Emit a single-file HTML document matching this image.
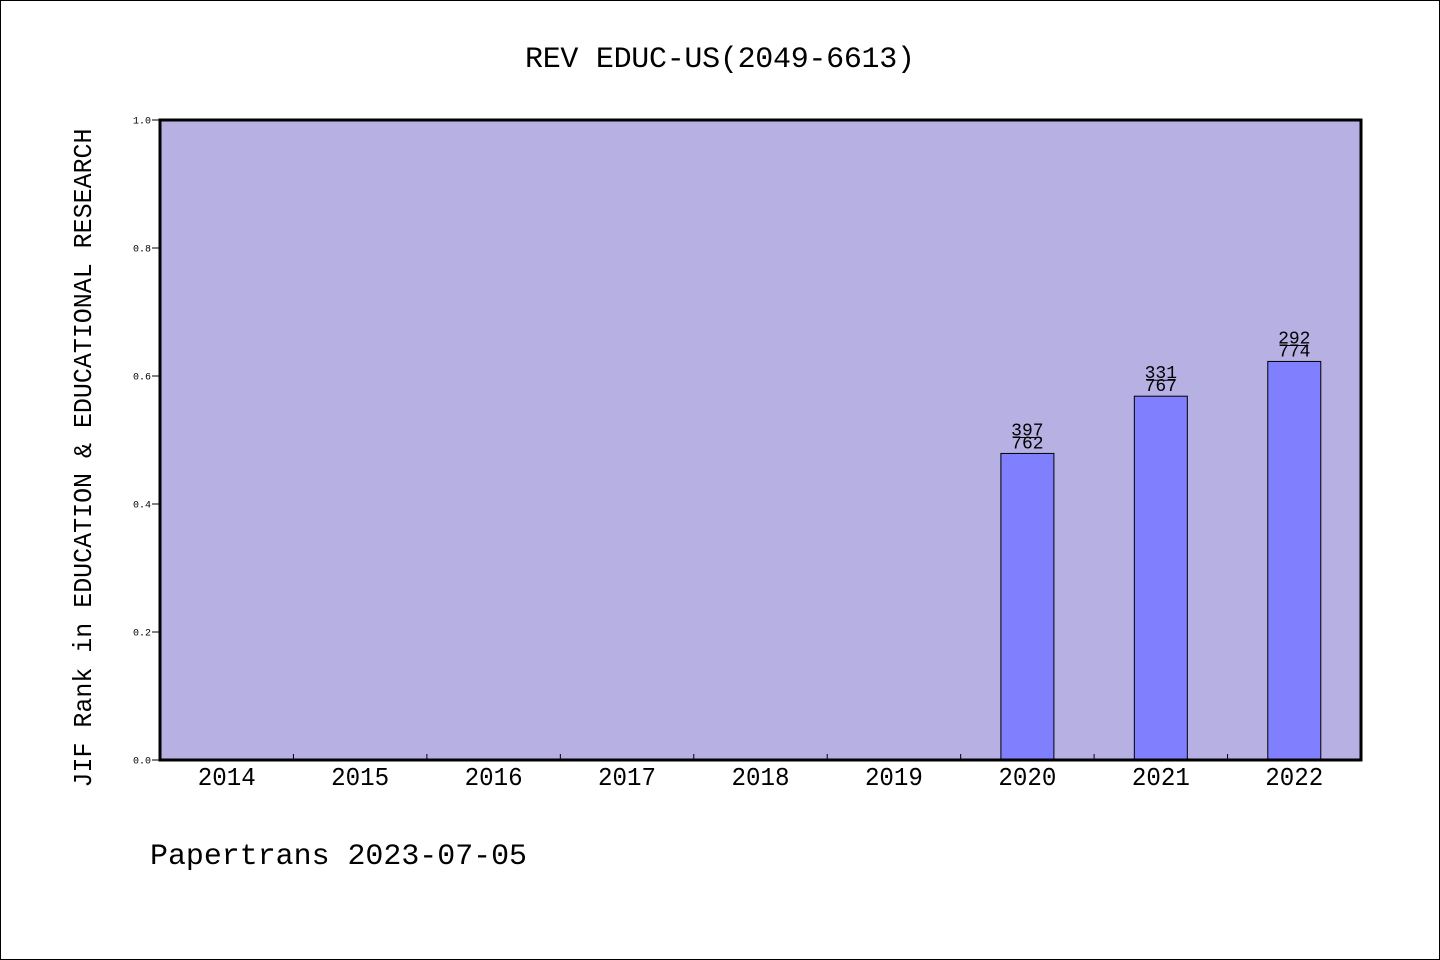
<!DOCTYPE html>
<html><head><meta charset="utf-8"><style>
html,body{margin:0;padding:0;background:#fff;}
svg{display:block;}
text{font-family:"WenQuanYi Zen Hei Mono","WenQuanYi Zen Hei","Liberation Mono",monospace;fill:#000;}
</style></head><body>
<svg id="chart" width="1440" height="960" viewBox="0 0 1440 960">
<rect x="0.5" y="0.5" width="1439" height="959" fill="#fff" stroke="#000" stroke-width="1"/>
<text x="720" y="67" font-size="30" text-anchor="middle" textLength="390">REV EDUC-US(2049-6613)</text>
<rect x="160" y="120" width="1201" height="640" fill="#b6b0e3"/>
<g id="ticks"></g>
<g id="bars"></g>
<rect x="160" y="120" width="1201" height="640" fill="none" stroke="#000" stroke-width="3"/>
<text transform="translate(91,458) rotate(-90)" font-size="26" text-anchor="middle" textLength="659" lengthAdjust="spacingAndGlyphs">JIF Rank in EDUCATION &amp; EDUCATIONAL RESEARCH</text>
<text x="150" y="864" font-size="30" textLength="377" lengthAdjust="spacingAndGlyphs">Papertrans 2023-07-05</text>
</svg>
<script>
const categories=["2014","2015","2016","2017","2018","2019","2020","2021","2022"];
const ranks=[null,null,null,null,null,null,397,331,292];
const totals=[null,null,null,null,null,null,762,767,774];
const yTicks=[0.0,0.2,0.4,0.6,0.8,1.0];
const NS="http://www.w3.org/2000/svg";
const X0=160,X1=1361,Y0=760,Y1=120;
const bw=(X1-X0)/categories.length;
const yS=v=>Y0-(v)*(Y0-Y1);
const xC=i=>X0+bw*(i+0.5);
const tg=document.getElementById('ticks'),bg=document.getElementById('bars');
function mk(tag,attrs,parent,txt){const e=document.createElementNS(NS,tag);for(const k in attrs)e.setAttribute(k,attrs[k]);if(txt!==undefined)e.textContent=txt;parent.appendChild(e);return e;}
yTicks.forEach(t=>{
  const y=yS(t);
  const l=mk('line',{x1:152,x2:160,y1:y,y2:y,stroke:'#000','stroke-width':1},tg);
  
  
  const tx=mk('text',{x:151,y:y+3.5,'font-size':10,'text-anchor':'end','font-family':'Liberation Sans, sans-serif'},tg,t.toFixed(1));
  
  
});
categories.forEach((c,i)=>{
  if(i>0){const x=X0+bw*i;
    const l=mk('line',{x1:x,x2:x,y1:Y0,y2:Y0-6,stroke:'#000','stroke-width':1},tg);
    
    }
  const t=mk('text',{x:xC(i),y:785,'font-size':26,'text-anchor':'middle',textLength:58,lengthAdjust:'spacingAndGlyphs'},tg,c);
  
  
  if(ranks[i]!=null){
    const v=1-ranks[i]/totals[i];
    const y=yS(v),cx=xC(i);
    const r=mk('rect',{x:cx-26.5,y:y,width:53,height:Y0-y,fill:'#8080ff',stroke:'#000','stroke-width':1},bg);
    
    
    const t1=mk('text',{x:cx,y:y-18,'font-size':18,'text-anchor':'middle'},bg,String(ranks[i]));
    
    
    const ln=mk('line',{x1:cx-14,x2:cx+14,y1:y-16,y2:y-16,stroke:'#000','stroke-width':1},bg);
    
    
    const t2=mk('text',{x:cx,y:y-5,'font-size':18,'text-anchor':'middle'},bg,String(totals[i]));
    
    
  }
});
</script>
</body></html>
